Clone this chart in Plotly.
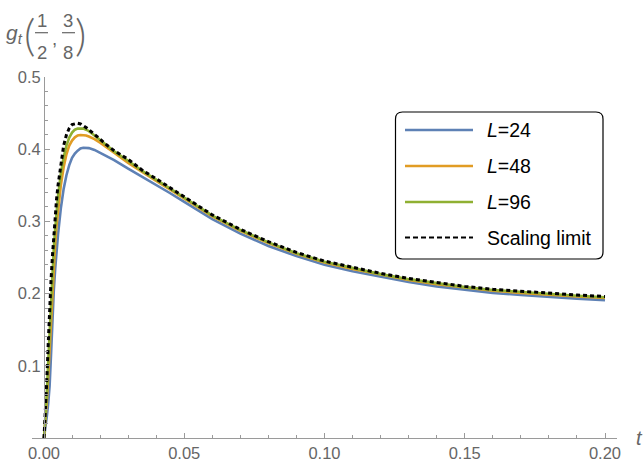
import plotly.graph_objects as go

# ---------------- data ----------------
t = [0, 0.0005, 0.001, 0.0015, 0.002, 0.0025, 0.003, 0.0035, 0.004, 0.0045, 0.005,
     0.006, 0.007, 0.008, 0.009, 0.010, 0.011, 0.012, 0.013, 0.014, 0.015, 0.016,
     0.018, 0.020, 0.022, 0.025, 0.03, 0.035, 0.04, 0.045, 0.05, 0.06, 0.07, 0.08,
     0.09, 0.10, 0.11, 0.12, 0.13, 0.14, 0.15, 0.16, 0.17, 0.18, 0.19, 0.20]

g_L24 = [0, 0.012, 0.030, 0.048, 0.072, 0.115, 0.165, 0.205, 0.235, 0.260, 0.282,
         0.318, 0.345, 0.364, 0.378, 0.388, 0.394, 0.398, 0.401, 0.402, 0.402, 0.4015,
         0.399, 0.395, 0.391, 0.385, 0.373, 0.362, 0.351, 0.339, 0.327, 0.303, 0.283, 0.266,
         0.252, 0.240, 0.231, 0.223, 0.216, 0.210, 0.205, 0.201, 0.198, 0.195, 0.193, 0.191]

g_L48 = [0, 0.022, 0.050, 0.085, 0.125, 0.168, 0.208, 0.242, 0.270, 0.295, 0.316,
         0.350, 0.375, 0.393, 0.405, 0.412, 0.4165, 0.419, 0.4197, 0.4195, 0.419, 0.4175,
         0.414, 0.409, 0.403, 0.395, 0.381, 0.368, 0.356, 0.344, 0.332, 0.307, 0.287, 0.270,
         0.255, 0.243, 0.234, 0.226, 0.219, 0.213, 0.208, 0.204, 0.201, 0.198, 0.196, 0.194]

g_L96 = [0, 0.028, 0.062, 0.105, 0.150, 0.192, 0.230, 0.263, 0.290, 0.315, 0.335,
         0.366, 0.389, 0.405, 0.416, 0.423, 0.427, 0.4285, 0.429, 0.4285, 0.427, 0.425,
         0.419, 0.413, 0.406, 0.397, 0.384, 0.370, 0.358, 0.346, 0.333, 0.308, 0.288, 0.271,
         0.256, 0.244, 0.235, 0.227, 0.220, 0.214, 0.209, 0.205, 0.202, 0.199, 0.197, 0.195]

g_limit = [0, 0.035, 0.080, 0.130, 0.180, 0.218, 0.252, 0.283, 0.310, 0.332, 0.350,
           0.380, 0.405, 0.420, 0.429, 0.434, 0.4355, 0.436, 0.435, 0.433, 0.430, 0.427,
           0.421, 0.414, 0.407, 0.398, 0.386, 0.371, 0.359, 0.347, 0.334, 0.309, 0.289, 0.272,
           0.257, 0.245, 0.236, 0.228, 0.221, 0.215, 0.210, 0.206, 0.203, 0.200, 0.198, 0.196]

series_names = ["L=24", "L=48", "L=96", "Scaling limit"]
legend_labels = ["<i>L</i>=24", "<i>L</i>=48", "<i>L</i>=96", "Scaling limit"]
colors = ["#5E81B5", "#E19C24", "#8FB032", "black"]

x_ticks = [0.00, 0.05, 0.10, 0.15, 0.20]
x_tick_text = ["0.00", "0.05", "0.10", "0.15", "0.20"]
y_ticks = [0.1, 0.2, 0.3, 0.4, 0.5]
y_tick_text = ["0.1", "0.2", "0.3", "0.4", "0.5"]

# ---------------- layout geometry ----------------
W, H = 644, 464
ML, MR, MT, MB = 32, 27, 77, 26
PW, PH = W - ML - MR, H - MT - MB
X0 = -12 / 2805
X1 = X0 + PW / 2805

def px(xp):
    return (xp - ML) / PW

def py(yp):
    return (H - MB - yp) / PH

GRAY_TXT = "#666666"
GRAY_AX = "#9a9a9a"
FONT = "Liberation Sans, Arial, sans-serif"
THIN = "Lato Light, Lato, DejaVu Sans, sans-serif"

fig = go.Figure()
all_series = [g_L24, g_L48, g_L96, g_limit]
for name, ys, col in zip(series_names, all_series, colors):
    if col == "black":
        line = dict(color=col, width=3, dash="4px,3px")
    else:
        line = dict(color=col, width=2.6)
    fig.add_trace(go.Scatter(x=t, y=ys, mode="lines", name=name, line=line,
                             showlegend=False, hoverinfo="skip"))

fig.update_layout(
    width=W, height=H,
    margin=dict(l=ML, r=MR, t=MT, b=MB, pad=0),
    paper_bgcolor="white", plot_bgcolor="white",
    font=dict(family=FONT, color=GRAY_TXT, size=16.5),
    showlegend=False,
    xaxis=dict(range=[X0, X1], showgrid=False, zeroline=False,
               showline=True, linecolor=GRAY_AX, linewidth=1,
               tickmode="array", tickvals=x_ticks, ticktext=x_tick_text,
               ticks="inside", ticklen=5, tickcolor=GRAY_AX, tickwidth=1,
               minor=dict(dtick=0.01, tick0=0, ticks="inside", ticklen=3,
                          tickcolor=GRAY_AX, tickwidth=1, showgrid=False),
               tickfont=dict(size=16.5, color=GRAY_TXT), automargin=False),
    yaxis=dict(range=[0, 0.5], showgrid=False, zeroline=False,
               anchor="free", position=px(44), side="left",
               showline=True, linecolor=GRAY_AX, linewidth=1,
               tickmode="array", tickvals=y_ticks, ticktext=y_tick_text,
               ticks="inside", ticklen=5, tickcolor=GRAY_AX, tickwidth=1,
               minor=dict(dtick=0.02, tick0=0, ticks="inside", ticklen=3,
                          tickcolor=GRAY_AX, tickwidth=1, showgrid=False),
               tickfont=dict(size=16.5, color=GRAY_TXT), automargin=False),
)

annotations = []
shapes = []

# x axis label
annotations.append(dict(x=px(639), y=py(438), xref="paper", yref="paper",
                        text="<i>t</i>", showarrow=False, xanchor="center", yanchor="middle",
                        font=dict(size=20, color=GRAY_TXT, family=FONT)))

# y axis label: g_t(1/2, 3/8)
def lab(xp, yp, text, size, family=FONT, weight=None):
    f = dict(size=size, color=GRAY_TXT, family=family)
    if weight:
        f["weight"] = weight
    annotations.append(dict(x=px(xp), y=py(yp), xref="paper", yref="paper", text=text,
                            showarrow=False, xanchor="center", yanchor="middle", font=f))

lab(14, 34, "<i>g</i><sub><i>t</i></sub>", 21)
lab(29.5, 34, "(", 44, THIN, 300)
lab(41.5, 21, "1", 18.5)
lab(41.5, 52, "2", 18.5)
lab(54, 39, ",", 18.5)
lab(68, 21, "3", 18.5)
lab(68, 52, "8", 18.5)
lab(80.5, 34, ")", 44, THIN, 300)
for xa, xb in [(35, 48), (62, 75)]:
    shapes.append(dict(type="line", xref="paper", yref="paper",
                       x0=px(xa), x1=px(xb), y0=py(32.7), y1=py(32.7),
                       line=dict(color=GRAY_TXT, width=1.2)))

# legend box (rounded)
bx0, bx1, by0, by1, r = 395.5, 603, 112, 259, 7
pts = [
    ("M", bx0 + r, by0), ("L", bx1 - r, by0), ("Q", bx1, by0, bx1, by0 + r),
    ("L", bx1, by1 - r), ("Q", bx1, by1, bx1 - r, by1), ("L", bx0 + r, by1),
    ("Q", bx0, by1, bx0, by1 - r), ("L", bx0, by0 + r), ("Q", bx0, by0, bx0 + r, by0)]
path = ""
for p in pts:
    cmd = p[0]
    coords = p[1:]
    s = []
    for i in range(0, len(coords), 2):
        s.append(f"{px(coords[i]):.5f},{py(coords[i+1]):.5f}")
    path += cmd + " " + " ".join(s) + " "
path += "Z"
shapes.append(dict(type="path", path=path, xref="paper", yref="paper",
                   fillcolor="white", line=dict(color="black", width=1.2), layer="above"))

rows = [130, 166, 202, 237.5]
for yrow, col, lbl in zip(rows, colors, legend_labels):
    if col == "black":
        ln = dict(color=col, width=2.2, dash="5px,3px")
    else:
        ln = dict(color=col, width=2.4)
    shapes.append(dict(type="line", xref="paper", yref="paper",
                       x0=px(405), x1=px(473), y0=py(yrow), y1=py(yrow), line=ln, layer="above"))
    annotations.append(dict(x=px(485), y=py(yrow), xref="paper", yref="paper", text=lbl,
                            showarrow=False, xanchor="left", yanchor="middle",
                            font=dict(size=19.5, color="black", family=FONT)))

fig.update_layout(annotations=annotations, shapes=shapes)
fig.write_html("out.html", config={"displayModeBar": False},
               post_script="document.body.style.margin='0';document.body.style.padding='0';"
                           "document.documentElement.style.overflow='hidden';")
